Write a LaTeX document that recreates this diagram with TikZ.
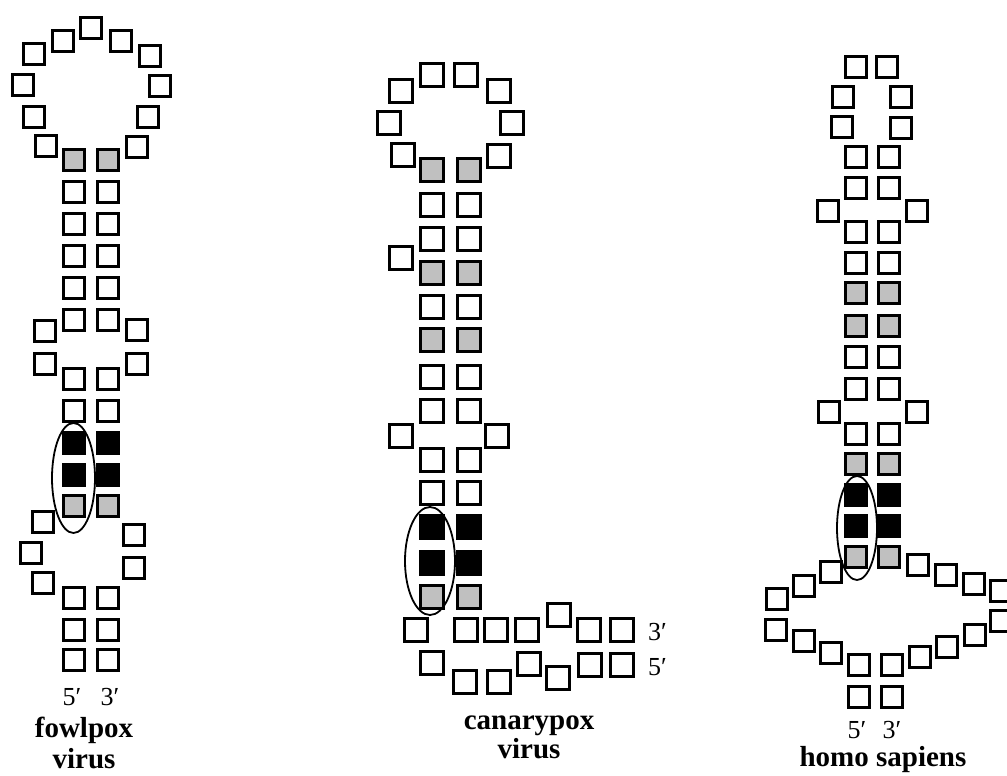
\documentclass[tikz,border=0pt]{standalone}
\usepackage{fontspec}
\setmainfont{Liberation Serif}
\usepackage{tikz}
\definecolor{basegray}{RGB}{192,192,192}
\tikzset{
  nt/.style={rectangle, draw=black, fill=white, minimum size=21pt,
    inner sep=0pt, line width=2.7pt},
  ntgray/.style={nt, fill=basegray},
  ntblack/.style={nt, fill=black},
  bigsq/.style={minimum size=22.5pt, line width=2.6pt},
  ring/.style={line width=1.8pt, color=black},
  endlbl/.style={font=\fontsize{26}{28}\selectfont, inner sep=0pt},
  namelbl/.style={font=\fontsize{29}{31}\selectfont\bfseries, inner sep=0pt}
}

\begin{document}
\begin{tikzpicture}[x=1pt, y=-1pt]
  \useasboundingbox (0,0) rectangle (1007,776);
  \clip (0,0) rectangle (1007,776);

  % fowlpox virus
  \foreach \x/\y [count=\i] in {91/28, 63/41, 121/41, 34/54, 150/56, 23/85, 160/86,
      34/117, 148/117, 46/146, 137/147,
      45/331, 137/330, 45/364, 137/364,
      43/522, 31/553, 43/583, 134/535, 134/568} {
    \node[nt] (fl\i) at (\x,\y) {};
  }
  \foreach \y [count=\i] in {192, 224, 256, 288, 320, 379, 411, 598, 630, 660} {
    \node[nt] (f5w\i) at (74,\y) {};
    \node[nt] (f3w\i) at (108,\y) {};
  }
  \foreach \y [count=\i] in {160, 506} {
    \node[ntgray] (f5g\i) at (74,\y) {};
    \node[ntgray] (f3g\i) at (108,\y) {};
  }
  \foreach \y [count=\i] in {443, 475} {
    \node[ntblack] (f5b\i) at (74,\y) {};
    \node[ntblack] (f3b\i) at (108,\y) {};
  }
  \draw[ring] (73.5,478) ellipse [x radius=21.5, y radius=55];
  \node[endlbl] (f5end) at (72,697) {5′};
  \node[endlbl] (f3end) at (110,697) {3′};
  \node[namelbl] (fname) at (84,730) {fowlpox};
  \node[namelbl, below=5pt] (fname2) at (fname.south) {virus};

  % canarypox virus
  \foreach \x/\y [count=\i] in {432/75, 466/75, 401/91, 499/91, 389/123, 512/123,
      403/155, 499/156, 401/258, 401/436, 497/436,
      416/630, 466/630, 496/630, 527/630, 559/615, 589/630, 622/630,
      432/663, 465/682, 499/682, 529/664, 558/678, 590/665, 622/665} {
    \node[nt, bigsq] (cl\i) at (\x,\y) {};
  }
  \foreach \y [count=\i] in {205, 239, 307, 377, 411, 460, 493} {
    \node[nt, bigsq] (c5w\i) at (432,\y) {};
    \node[nt, bigsq] (c3w\i) at (469,\y) {};
  }
  \foreach \y [count=\i] in {170, 273, 340, 597} {
    \node[ntgray, bigsq] (c5g\i) at (432,\y) {};
    \node[ntgray, bigsq] (c3g\i) at (469,\y) {};
  }
  \foreach \y [count=\i] in {527, 563} {
    \node[ntblack, bigsq] (c5b\i) at (432,\y) {};
    \node[ntblack, bigsq] (c3b\i) at (469,\y) {};
  }
  \draw[ring] (430,561) ellipse [x radius=25, y radius=54];
  \node[endlbl, anchor=west] (c3end) at (648,632) {3′};
  \node[endlbl, anchor=west] (c5end) at (648,667) {5′};
  \node[namelbl] (cname) at (529,726) {canarypox};
  \node[namelbl, below=2pt] (cname2) at (cname.south) {virus};

  % homo sapiens
  \foreach \x/\y [count=\i] in {856/67, 887/67, 843/97, 901/97, 842/127, 901/128,
      828/211, 917/211, 829/412, 917/412,
      831/572, 804/586, 777/599, 918/565, 946/575, 974/584, 1001/591,
      776/630, 804/641, 831/653, 859/665, 892/665, 920/657, 947/647, 975/635, 1001/621,
      859/697, 892/697} {
    \node[nt] (hl\i) at (\x,\y) {};
  }
  \foreach \y [count=\i] in {157, 188, 232, 263, 357, 389, 434} {
    \node[nt] (h5w\i) at (856,\y) {};
    \node[nt] (h3w\i) at (889,\y) {};
  }
  \foreach \y [count=\i] in {293, 326, 464, 557} {
    \node[ntgray] (h5g\i) at (856,\y) {};
    \node[ntgray] (h3g\i) at (889,\y) {};
  }
  \foreach \y [count=\i] in {495, 526} {
    \node[ntblack] (h5b\i) at (856,\y) {};
    \node[ntblack] (h3b\i) at (889,\y) {};
  }
  \draw[ring] (857,528) ellipse [x radius=20, y radius=52];
  \node[endlbl] (h5end) at (857,730) {5′};
  \node[endlbl] (h3end) at (892,730) {3′};
  \node[namelbl] (hname) at (883,760) {homo sapiens};

\end{tikzpicture}
\end{document}
